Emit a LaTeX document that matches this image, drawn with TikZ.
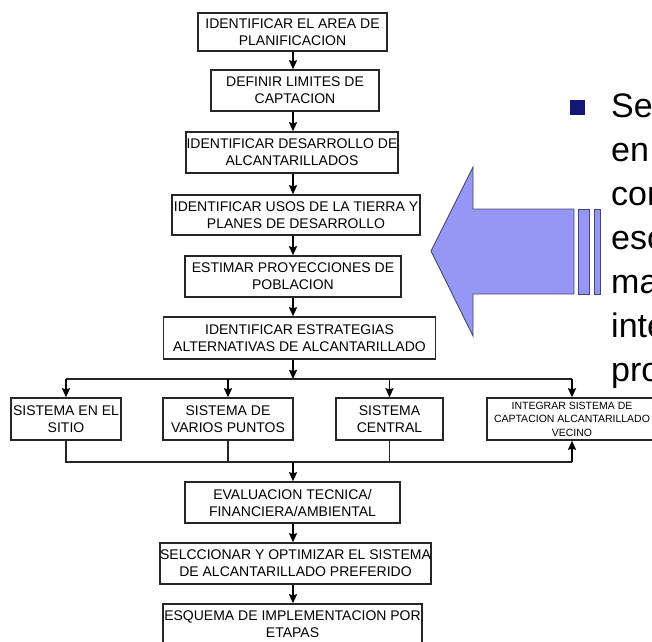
\documentclass[tikz,border=0pt]{standalone}
\usepackage{fontspec}
\setmainfont{Liberation Sans}
\usepackage{tikz}
\usetikzlibrary{arrows.meta,positioning}
\definecolor{arrowfill}{RGB}{150,150,244}
\definecolor{arrowline}{RGB}{70,70,110}
\definecolor{bulletblue}{RGB}{22,22,120}
\tikzstyle{stepbox} = [rectangle, draw=black!85, line width=1.5pt, align=center, inner sep=0pt, font=\fontsize{14pt}{17pt}\selectfont]
\tikzstyle{arrow} = [line width=1.5pt,-{Stealth[length=9pt,width=8pt,inset=1pt]}]

\begin{document}
\begin{tikzpicture}[
    x=1pt, y=-1pt,
    line/.style={line width=1.5pt, draw=black!85},
    bigarrow/.style={fill=arrowfill, draw=arrowline, line width=0.9pt},
    bullettext/.style={anchor=base west, inner sep=0pt, font=\fontsize{34pt}{44pt}\selectfont}
]
\useasboundingbox (0,0) rectangle (652,641);
\clip (0,0) rectangle (652,641);

% Main chain of steps
\node[stepbox, minimum width=189pt, minimum height=38pt] (area) at (292.5,32) {IDENTIFICAR EL AREA DE\\PLANIFICACION};
\node[stepbox, minimum width=168pt, minimum height=41pt] (limites) at (295,90.5) {DEFINIR LIMITES DE\\CAPTACION};
\node[stepbox, minimum width=212pt, minimum height=41pt] (desarrollo) at (292,152.5) {IDENTIFICAR DESARROLLO DE\\ALCANTARILLADOS};
\node[stepbox, minimum width=248pt, minimum height=40pt] (usos) at (296,215) {IDENTIFICAR USOS DE LA TIERRA Y\\PLANES DE DESARROLLO};
\node[stepbox, minimum width=216pt, minimum height=41pt] (poblacion) at (293,276.5) {ESTIMAR PROYECCIONES DE\\POBLACION};
\node[stepbox, minimum width=272pt, minimum height=42pt] (estrategias) at (299.5,338) {IDENTIFICAR ESTRATEGIAS\\ALTERNATIVAS DE ALCANTARILLADO};

% Alternative systems
\node[stepbox, minimum width=110pt, minimum height=42pt] (sitio) at (66,419) {SISTEMA EN EL\\SITIO};
\node[stepbox, minimum width=130pt, minimum height=42pt] (puntos) at (228,419) {SISTEMA DE\\VARIOS PUNTOS};
\node[stepbox, minimum width=107pt, minimum height=42pt] (central) at (389.5,419) {SISTEMA\\CENTRAL};
\node[stepbox, minimum width=170pt, minimum height=42pt, font=\fontsize{10.5pt}{13.5pt}\selectfont] (vecino) at (572,419) {INTEGRAR SISTEMA DE\\CAPTACION ALCANTARILLADO\\VECINO};

% Evaluation and final steps
\node[stepbox, minimum width=215pt, minimum height=41pt] (evaluacion) at (292.5,502.5) {EVALUACION TECNICA/\\FINANCIERA/AMBIENTAL};
\node[stepbox, minimum width=271pt, minimum height=41pt] (optimizar) at (295.5,563.5) {SELCCIONAR Y OPTIMIZAR EL SISTEMA\\DE ALCANTARILLADO PREFERIDO};
\node[stepbox, minimum width=259pt, minimum height=41pt] (etapas) at (292.5,624.5) {ESQUEMA DE IMPLEMENTACION POR\\ETAPAS};

% Junction points
\coordinate (split) at (293,379);
\coordinate (join) at (293,462);

% Arrows along the chain
\draw[arrow] (area.south -| split) -- (limites.north -| split);
\draw[arrow] (limites.south -| split) -- (desarrollo.north -| split);
\draw[arrow] (desarrollo.south -| split) -- (usos.north -| split);
\draw[arrow] (usos.south -| split) -- (poblacion.north -| split);
\draw[arrow] (poblacion.south -| split) -- (estrategias.north -| split);
\draw[arrow] (estrategias.south -| split) -- (split);

% Distribution line
\draw[line] (split -| sitio) -- (split -| vecino);
\draw[arrow] (split -| sitio) -- (sitio.north);
\draw[arrow] (split -| puntos) -- (puntos.north);
\draw[arrow] (split -| central) -- (central.north);
\draw[arrow] (split -| vecino) -- (vecino.north);

% Collecting line
\draw[line] (sitio.south) -- (join -| sitio) -- (join -| vecino);
\draw[line] (puntos.south) -- (join -| puntos);
\draw[line] (central.south) -- (join -| central);
\draw[arrow] (join -| vecino) -- (vecino.south);
\draw[arrow] (join) -- (evaluacion.north -| join);
\draw[arrow] (evaluacion.south -| join) -- (optimizar.north -| join);
\draw[arrow] (optimizar.south -| join) -- (etapas.north -| join);

% Big arrow pointing to the chart
\draw[bigarrow] (431,251) -- (473,167) -- (473,209) -- (574,209) -- (574,294) -- (473,294) -- (473,336) -- cycle;
\draw[bigarrow] (578,209) rectangle (589,294);
\draw[bigarrow] (594,209) rectangle (600,294);

% Bullet text
\fill[bulletblue] (570,100) rectangle (585,115);
\node[bullettext] (l1) at (611,117) {Se};
\node[bullettext] (l2) at (611,161) {en};
\node[bullettext] (l3) at (611,205) {con};
\node[bullettext] (l4) at (611,249) {esc};
\node[bullettext] (l5) at (611,293) {ma};
\node[bullettext] (l6) at (611,337) {inte};
\node[bullettext] (l7) at (611,381) {pro};

\end{tikzpicture}
\end{document}
